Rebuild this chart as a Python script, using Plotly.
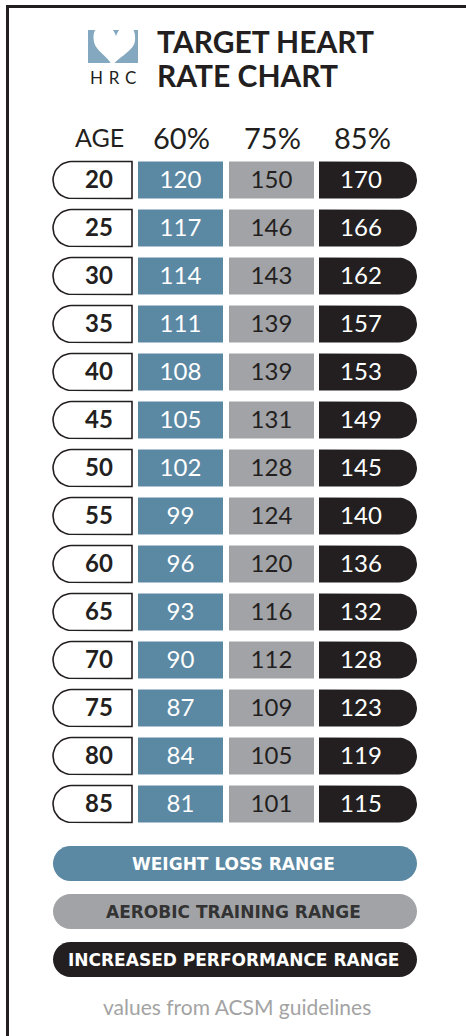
import math
import plotly.graph_objects as go

# ---------------- data ----------------
ages = [20, 25, 30, 35, 40, 45, 50, 55, 60, 65, 70, 75, 80, 85]
hr_60 = [120, 117, 114, 111, 108, 105, 102, 99, 96, 93, 90, 87, 84, 81]
hr_75 = [150, 146, 143, 139, 139, 131, 128, 124, 120, 116, 112, 109, 105, 101]
hr_85 = [170, 166, 162, 157, 153, 149, 145, 140, 136, 132, 128, 123, 119, 115]
column_labels = ["AGE", "60%", "75%", "85%"]
legend_labels = ["WEIGHT LOSS RANGE", "AEROBIC TRAINING RANGE", "INCREASED PERFORMANCE RANGE"]
title_lines = ["TARGET HEART", "RATE CHART"]
logo_text = "H\u2004R\u2004C"
footer = "values from ACSM guidelines"

# ---------------- layout constants ----------------
W, H = 466, 1036
FONT = "Lato"
LEG_FONT = "DejaVu Sans"
DARK = "#231f20"
BLUE = "#5b88a2"
GRAY = "#a2a3a7"
LOGO_BLUE = "#83a8bf"
ROW_TOP, ROW_BOTTOM = 156, 828          # pixel extent of the 14 rows
ROW_PX = 48                              # pixels per row
CELL_PX = 37                             # cell height in pixels
COLS = [(53, 132), (138, 223), (229, 314), (319, 417)]
TEXT_X = [99, 180.5, 271.5, 361]
HEAD_X = [99.5, 181.5, 272, 362]
TEXT_DY_PX = 1.5

n = len(ages)
step = ages[1] - ages[0]
unit_px = ROW_PX / step                  # pixels per y unit
cell_h = CELL_PX / unit_px               # cell height in y units
y_range = [ages[-1] + step / 2, ages[0] - step / 2]


def px(x):
    return x / W


def py(y):
    return 1 - y / H


def pill_trace(x0, x1, left, right, fill, line_color=None, line_w=0):
    """Rounded-end cells for every age row, drawn in data units."""
    r = CELL_PX / 2
    xs, ys = [], []
    m = 20
    for a in ages:
        top, bot = a - cell_h / 2, a + cell_h / 2
        pts = [(x0 + r if left else x0, top)]
        if right:
            for i in range(m + 1):
                t = -math.pi / 2 + math.pi * i / m
                pts.append((x1 - r + r * math.cos(t), a + (r / unit_px) * math.sin(t)))
        else:
            pts += [(x1, top), (x1, bot)]
        if left:
            for i in range(m + 1):
                t = math.pi / 2 + math.pi * i / m
                pts.append((x0 + r + r * math.cos(t), a + (r / unit_px) * math.sin(t)))
        else:
            pts += [(x0, bot), (x0, top)]
        pts.append(pts[0])
        xs += [p[0] for p in pts] + [None]
        ys += [p[1] for p in pts] + [None]
    return go.Scatter(x=xs, y=ys, mode="lines", fill="toself", fillcolor=fill,
                      line=dict(color=line_color or fill, width=line_w),
                      hoverinfo="skip", showlegend=False)


fig = go.Figure()

# age pills (rounded left) and 85% pills (rounded right)
fig.add_trace(pill_trace(*COLS[0], left=True, right=False, fill="white",
                         line_color=DARK, line_w=1.6))
fig.add_trace(pill_trace(*COLS[3], left=False, right=True, fill=DARK, line_w=0))
# 60% / 75% rectangular cells
for (c0, c1), col in zip(COLS[1:3], [BLUE, GRAY]):
    fig.add_trace(go.Bar(orientation="h", y=ages, x=[c1 - c0] * n, base=[c0] * n,
                         width=cell_h, marker=dict(color=col, line=dict(width=0)),
                         hoverinfo="skip", showlegend=False))

# cell texts
text_sets = [ages, hr_60, hr_75, hr_85]
text_cols = [DARK, "white", DARK, "white"]
text_w = ["bold", "normal", "normal", "normal"]
dy = TEXT_DY_PX / unit_px
for xs, vals, c, w in zip(TEXT_X, text_sets, text_cols, text_w):
    fig.add_trace(go.Scatter(x=[xs] * n, y=[a + dy for a in ages], mode="text",
                             text=[str(v) for v in vals], textposition="middle center",
                             textfont=dict(family=FONT, size=24, color=c, weight=w),
                             hoverinfo="skip", showlegend=False, cliponaxis=False))

shapes = []
annotations = []

# frame
shapes.append(dict(type="rect", xref="paper", yref="paper", x0=px(7.5), x1=px(480),
                   y0=py(6.5), y1=py(1050), line=dict(color=DARK, width=3),
                   fillcolor="rgba(0,0,0,0)", layer="below"))


def path_px(cmds):
    s = ""
    for cmd, p in cmds:
        s += cmd + " ".join(f"{px(a):.5f},{py(b):.5f}" for a, b in p) + " "
    return s + "Z"


def pill_path(x0, x1, y0, y1):
    r = (y1 - y0) / 2
    k = 0.5523 * r
    ym = (y0 + y1) / 2
    return path_px([("M", [(x0 + r, y0)]), ("L", [(x1 - r, y0)]),
                    ("C", [(x1 - r + k, y0), (x1, ym - k), (x1, ym)]),
                    ("C", [(x1, ym + k), (x1 - r + k, y1), (x1 - r, y1)]),
                    ("L", [(x0 + r, y1)]),
                    ("C", [(x0 + r - k, y1), (x0, ym + k), (x0, ym)]),
                    ("C", [(x0, ym - k), (x0 + r - k, y0), (x0 + r, y0)])])


# logo
shapes.append(dict(type="rect", xref="paper", yref="paper", x0=px(88), x1=px(138),
                   y0=py(63), y1=py(30), fillcolor=LOGO_BLUE, line=dict(width=0)))
heart = [("M", [(116, 36)]),
         ("C", [(111, 20), (90, 22), (94, 42)]),
         ("C", [(96, 51), (107, 56), (111, 63.5)]),
         ("L", [(114, 63.5)]),
         ("C", [(121, 56), (134, 50), (135, 41)]),
         ("C", [(137, 22), (121, 21), (116, 36)])]
shapes.append(dict(type="path", xref="paper", yref="paper", path=path_px(heart),
                   fillcolor="white", line=dict(width=0)))
shapes.append(dict(type="rect", xref="paper", yref="paper", x0=px(86), x1=px(140),
                   y0=py(29.8), y1=py(16), fillcolor="white", line=dict(width=0)))
annotations.append(dict(x=px(113), y=py(78), xref="paper", yref="paper", text=logo_text,
                        showarrow=False, xanchor="center", yanchor="middle",
                        font=dict(family=FONT, size=17, color=DARK)))

# title
for line, yc in zip(title_lines, [41, 75]):
    annotations.append(dict(x=px(155), y=py(yc), xref="paper", yref="paper", text=line,
                            showarrow=False, xanchor="left", yanchor="middle",
                            font=dict(family=FONT, size=30, color=DARK, weight="bold")))

# column headers
for lab, xc, sz in zip(column_labels, HEAD_X, [25, 29, 29, 29]):
    annotations.append(dict(x=px(xc), y=py(137), xref="paper", yref="paper", text=lab,
                            showarrow=False, xanchor="center", yanchor="middle",
                            font=dict(family=FONT, size=sz, color=DARK)))

# legend pills
for lab, (y0, y1), fc, tc in zip(legend_labels, [(846, 881), (894, 929), (942, 977)],
                                 [BLUE, GRAY, DARK], ["white", "#333333", "white"]):
    shapes.append(dict(type="path", xref="paper", yref="paper", path=pill_path(53, 417, y0, y1),
                       fillcolor=fc, line=dict(width=0)))
    annotations.append(dict(x=px(233.5), y=py((y0 + y1) / 2), xref="paper", yref="paper",
                            text=lab, showarrow=False, xanchor="center", yanchor="middle",
                            font=dict(family=LEG_FONT, size=17, color=tc, weight="bold")))

# footer
annotations.append(dict(x=px(237), y=py(1006), xref="paper", yref="paper", text=footer,
                        showarrow=False, xanchor="center", yanchor="middle",
                        font=dict(family=FONT, size=21, color="#a3a3a3")))

fig.update_layout(
    width=W, height=H, margin=dict(l=0, r=0, t=0, b=0, pad=0),
    paper_bgcolor="white", plot_bgcolor="white",
    barmode="overlay",
    xaxis=dict(range=[0, W], domain=[0, 1], visible=False, fixedrange=True),
    yaxis=dict(range=y_range, domain=[1 - ROW_BOTTOM / H, 1 - ROW_TOP / H],
               visible=False, fixedrange=True),
    shapes=shapes, annotations=annotations, showlegend=False,
)

fig.write_html("out.html", config={"displayModeBar": False},
               post_script="document.body.style.margin='0';")
